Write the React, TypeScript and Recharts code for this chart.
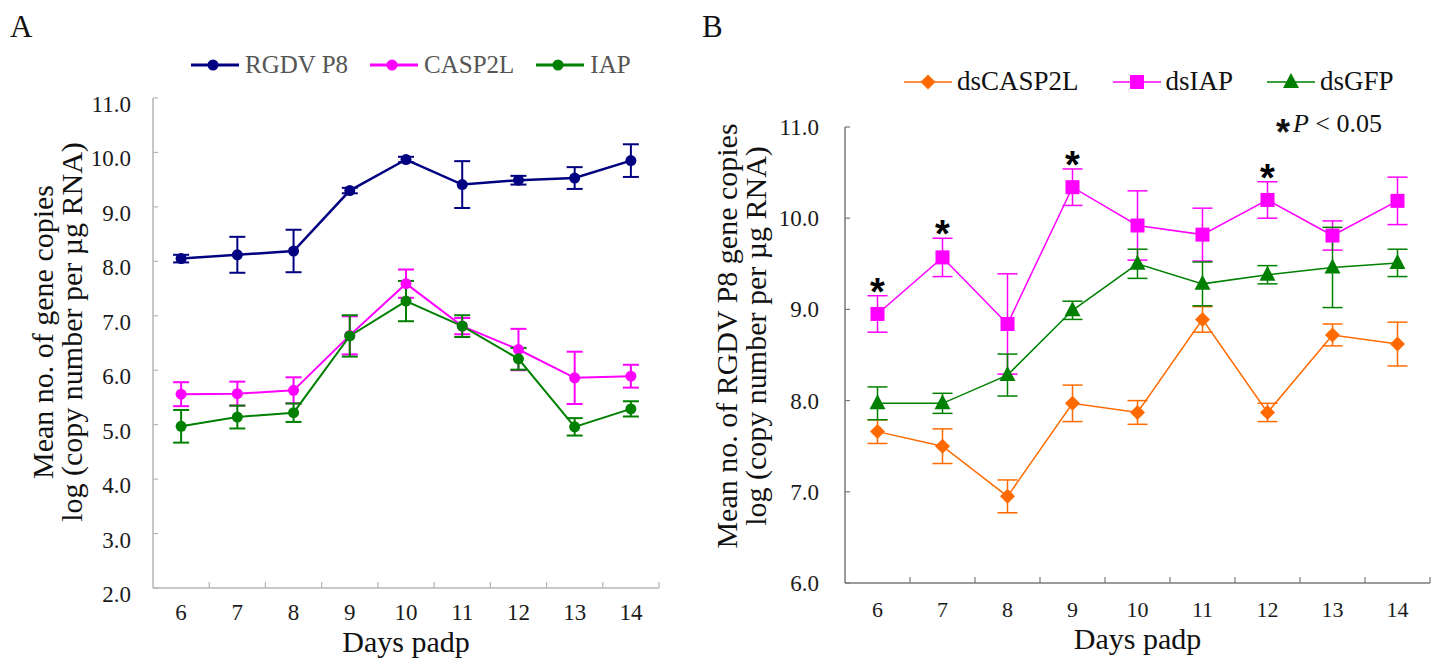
import React from 'react'
import { LineChart, Line, XAxis, YAxis, ErrorBar, Legend, LabelList, Label } from 'recharts'

const SERIF = '"Liberation Serif", "Times New Roman", serif'
const SANS = '"Liberation Sans", Arial, sans-serif'

const days = [6, 7, 8, 9, 10, 11, 12, 13, 14]
// half steps are only used to draw the small marks between categories
const dayTicks = [6, 6.5, 7, 7.5, 8, 8.5, 9, 9.5, 10, 10.5, 11, 11.5, 12, 12.5, 13, 13.5, 14, 14.5]
const ticksA = [2, 3, 4, 5, 6, 7, 8, 9, 10, 11]
const ticksB = [6, 7, 8, 9, 10, 11]

// panel A
const rgdvP8 = [8.05, 8.12, 8.19, 9.3, 9.87, 9.41, 9.49, 9.53, 9.85]
const rgdvP8Err = [0.07, 0.33, 0.39, 0.05, 0.05, 0.43, 0.08, 0.2, 0.3]
const casp2l = [5.56, 5.57, 5.63, 6.64, 7.59, 6.81, 6.38, 5.86, 5.89]
const casp2lErr = [0.22, 0.22, 0.24, 0.35, 0.26, 0.15, 0.38, 0.48, 0.21]
const iap = [4.97, 5.14, 5.22, 6.63, 7.27, 6.81, 6.21, 4.96, 5.29]
const iapErr = [0.3, 0.21, 0.17, 0.38, 0.37, 0.2, 0.2, 0.16, 0.14]

// panel B
const dsCasp2l = [7.66, 7.5, 6.95, 7.97, 7.87, 8.89, 7.87, 8.72, 8.62]
const dsCasp2lErr = [0.13, 0.19, 0.18, 0.2, 0.13, 0.14, 0.1, 0.12, 0.24]
const dsIap = [8.95, 9.57, 8.84, 10.34, 9.92, 9.82, 10.2, 9.81, 10.19]
const dsIapErr = [0.2, 0.21, 0.55, 0.2, 0.38, 0.29, 0.2, 0.16, 0.26]
const dsGfp = [7.97, 7.97, 8.28, 8.99, 9.5, 9.28, 9.38, 9.46, 9.51]
const dsGfpErr = [0.18, 0.11, 0.23, 0.1, 0.16, 0.24, 0.1, 0.44, 0.15]
const significantDays = [6, 7, 9, 12]

const NAVY = '#000080'
const MAGENTA = '#ff00ff'
const GREEN = '#008000'
const ORANGE = '#ff6a00'
const GREY_A = '#b4b4b4'
const GREY_B = '#7a7a7a'

const seriesA = [
  { key: 'p8', name: 'RGDV P8', color: NAVY, width: 2.5 },
  { key: 'casp', name: 'CASP2L', color: MAGENTA, width: 2 },
  { key: 'iap', name: 'IAP', color: GREEN, width: 2 },
]

const seriesB = [
  { key: 'dsCasp', name: 'dsCASP2L', color: ORANGE, marker: 'diamond' },
  { key: 'dsIap', name: 'dsIAP', color: MAGENTA, marker: 'square' },
  { key: 'dsGfp', name: 'dsGFP', color: GREEN, marker: 'triangle' },
]

const dataA = days.map((day, i) => ({
  day,
  p8: rgdvP8[i],
  p8Err: rgdvP8Err[i],
  casp: casp2l[i],
  caspErr: casp2lErr[i],
  iap: iap[i],
  iapErr: iapErr[i],
}))

const dataB = days.map((day, i) => ({
  day,
  dsCasp: dsCasp2l[i],
  dsCaspErr: dsCasp2lErr[i],
  dsIap: dsIap[i],
  dsIapErr: dsIapErr[i],
  dsGfp: dsGfp[i],
  dsGfpErr: dsGfpErr[i],
  star: significantDays.includes(day) ? dsIap[i] + dsIapErr[i] : null,
}))

function DayTick(props: any) {
  const { x, y, payload, color, labelDy, fontSize } = props
  const v = payload.value
  if (Number.isInteger(v)) {
    return (
      <text x={x} y={y + labelDy} textAnchor="middle" fontFamily={SERIF} fontSize={fontSize} fill="#1a1a1a">
        {v}
      </text>
    )
  }
  return <line x1={x} y1={y} x2={x} y2={y - 6} stroke={color} strokeWidth={1.2} />
}

function ValueTick(props: any) {
  const { x, y, payload, color, gap, labelDy } = props
  return (
    <g>
      <line x1={x} y1={y} x2={x + 5} y2={y} stroke={color} strokeWidth={1.2} />
      <text x={x - gap} y={y + labelDy} textAnchor="end" fontFamily={SERIF} fontSize={23} fill="#1a1a1a">
        {payload.value.toFixed(1)}
      </text>
    </g>
  )
}

function XTitle({ viewBox, dy }: any) {
  return (
    <text x={viewBox.x + viewBox.width / 2} y={viewBox.y + dy} textAnchor="middle" fontFamily={SERIF} fontSize={30} fill="#111">
      Days padp
    </text>
  )
}

function YTitle({ lines, baseX, centerY }: any) {
  return (
    <text transform={`translate(${baseX}, ${centerY}) rotate(-90)`} textAnchor="middle" fontFamily={SERIF} fontSize={30} fill="#111">
      <tspan x={0} y={0}>{lines[0]}</tspan>
      <tspan x={0} y={29}>{lines[1]}</tspan>
    </text>
  )
}

function LegendA() {
  return (
    <div style={{ display: 'flex', alignItems: 'center', fontFamily: SERIF, fontSize: 25, color: '#555', whiteSpace: 'nowrap' }}>
      {seriesA.map((s) => (
        <div key={s.key} style={{ display: 'flex', alignItems: 'center', marginRight: 22 }}>
          <svg width={48} height={16}>
            <line x1={0} y1={8} x2={48} y2={8} stroke={s.color} strokeWidth={3} />
            <circle cx={22} cy={8} r={5.5} fill={s.color} />
          </svg>
          <span style={{ marginLeft: 6 }}>{s.name}</span>
        </div>
      ))}
    </div>
  )
}

function Marker({ kind, cx, cy, color }: any) {
  if (cx == null || cy == null) return null
  if (kind === 'square') return <rect x={cx - 7} y={cy - 7} width={14} height={14} fill={color} />
  if (kind === 'triangle') return <polygon points={`${cx},${cy - 9} ${cx - 8},${cy + 6} ${cx + 8},${cy + 6}`} fill={color} />
  return <polygon points={`${cx},${cy - 7.5} ${cx + 7.5},${cy} ${cx},${cy + 7.5} ${cx - 7.5},${cy}`} fill={color} />
}

function LegendB() {
  return (
    <div style={{ fontFamily: SERIF, color: '#111', whiteSpace: 'nowrap' }}>
      <div style={{ display: 'flex', alignItems: 'center', fontSize: 27 }}>
        {seriesB.map((s, i) => (
          <div key={s.key} style={{ display: 'flex', alignItems: 'center', marginRight: i < seriesB.length - 1 ? 34 : 0 }}>
            <svg width={48} height={20}>
              <line x1={0} y1={10} x2={48} y2={10} stroke={s.color} strokeWidth={1.5} />
              <Marker kind={s.marker} cx={24} cy={10} color={s.color} />
            </svg>
            <span style={{ marginLeft: 5 }}>{s.name}</span>
          </div>
        ))}
      </div>
      <div style={{ marginTop: 12, textAlign: 'right', paddingRight: 22, fontSize: 26 }}>
        <span style={{ fontFamily: SANS, fontWeight: 700, fontSize: 36, verticalAlign: '-13px' }}>*</span>
        <span style={{ fontStyle: 'italic', marginLeft: 3 }}>P</span>
        <span> &lt; 0.05</span>
      </div>
    </div>
  )
}

function StarLabel(props: any) {
  const { x, y, value } = props
  if (value == null || x == null || y == null) return null
  return (
    <text x={x} y={y + 9} textAnchor="middle" fontFamily={SANS} fontWeight={700} fontSize={38} fill="#000">
      *
    </text>
  )
}

function PanelA() {
  return (
    <LineChart width={700} height={659} data={dataA} margin={{ top: 98, right: 41, bottom: 41, left: 93 }}>
      <XAxis
        type="number"
        dataKey="day"
        domain={[5.5, 14.5]}
        ticks={dayTicks}
        interval={0}
        height={30}
        tickSize={0}
        tickMargin={0}
        tickLine={false}
        axisLine={{ stroke: GREY_A, strokeWidth: 1.5 }}
        tick={(p: any) => <DayTick {...p} color={GREY_A} labelDy={32} fontSize={23} />}
      >
        <Label content={(p: any) => <XTitle viewBox={p.viewBox} dy={64} />} />
      </XAxis>
      <YAxis
        type="number"
        domain={[2, 11]}
        ticks={ticksA}
        interval={0}
        width={60}
        tickSize={0}
        tickMargin={0}
        tickLine={false}
        axisLine={{ stroke: GREY_A, strokeWidth: 1.5 }}
        tick={(p: any) => <ValueTick {...p} color={GREY_A} gap={22} labelDy={14} />}
      >
        <Label
          content={() => (
            <YTitle lines={['Mean no. of gene copies', 'log (copy number per µg RNA)']} baseX={53} centerY={332} />
          )}
        />
      </YAxis>
      <Legend
        verticalAlign="middle"
        align="center"
        content={() => <LegendA />}
        wrapperStyle={{ top: 51, left: 191, width: 480, height: 28 }}
      />
      {seriesA.map((s) => (
        <Line
          key={s.key}
          dataKey={s.key}
          name={s.name}
          stroke={s.color}
          strokeWidth={s.width}
          dot={{ r: 5.5, fill: s.color, stroke: s.color, strokeWidth: 0 }}
          isAnimationActive={false}
        >
          <ErrorBar dataKey={`${s.key}Err`} direction="y" width={8} stroke={s.color} strokeWidth={2} isAnimationActive={false} />
        </Line>
      ))}
    </LineChart>
  )
}

function PanelB() {
  return (
    <LineChart width={737} height={659} data={dataB} margin={{ top: 127, right: 7, bottom: 46, left: 85 }}>
      <XAxis
        type="number"
        dataKey="day"
        domain={[5.5, 14.5]}
        ticks={dayTicks}
        interval={0}
        height={30}
        tickSize={0}
        tickMargin={0}
        tickLine={false}
        axisLine={{ stroke: GREY_B, strokeWidth: 1.5 }}
        tick={(p: any) => <DayTick {...p} color={GREY_B} labelDy={34} fontSize={22} />}
      >
        <Label content={(p: any) => <XTitle viewBox={p.viewBox} dy={66} />} />
      </XAxis>
      <YAxis
        type="number"
        domain={[6, 11]}
        ticks={ticksB}
        interval={0}
        width={60}
        tickSize={0}
        tickMargin={0}
        tickLine={false}
        axisLine={{ stroke: GREY_B, strokeWidth: 1.5 }}
        tick={(p: any) => <ValueTick {...p} color={GREY_B} gap={26} labelDy={8} />}
      >
        <Label
          content={() => (
            <YTitle lines={['Mean no. of RGDV P8 gene copies', 'log (copy number per µg RNA)']} baseX={37} centerY={336} />
          )}
        />
      </YAxis>
      <Legend
        verticalAlign="middle"
        align="center"
        content={() => <LegendB />}
        wrapperStyle={{ top: 66, left: 204, width: 500, height: 80 }}
      />
      {seriesB.map((s) => (
        <Line
          key={s.key}
          dataKey={s.key}
          name={s.name}
          stroke={s.color}
          strokeWidth={1.5}
          dot={(p: any) => <Marker key={`${s.key}-${p.index}`} kind={s.marker} cx={p.cx} cy={p.cy} color={s.color} />}
          isAnimationActive={false}
        >
          <ErrorBar dataKey={`${s.key}Err`} direction="y" width={10} stroke={s.color} strokeWidth={1.5} isAnimationActive={false} />
        </Line>
      ))}
      <Line dataKey="star" stroke="none" dot={false} activeDot={false} legendType="none" isAnimationActive={false}>
        <LabelList dataKey="star" content={(p: any) => <StarLabel {...p} />} />
      </Line>
    </LineChart>
  )
}

export default function App() {
  return (
    <div style={{ position: 'absolute', left: 0, top: 0, width: 1437, height: 659, background: '#fff', fontFamily: SERIF }}>
      <div style={{ position: 'absolute', left: 10, top: 9, fontSize: 31, lineHeight: '36px', color: '#111' }}>A</div>
      <div style={{ position: 'absolute', left: 702, top: 9, fontSize: 31, lineHeight: '36px', color: '#111' }}>B</div>
      <div style={{ position: 'absolute', left: 0, top: 0 }}>
        <PanelA />
      </div>
      <div style={{ position: 'absolute', left: 700, top: 0 }}>
        <PanelB />
      </div>
    </div>
  )
}
